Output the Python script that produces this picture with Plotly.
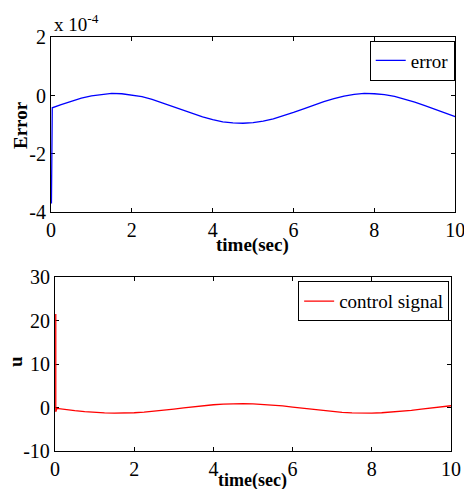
import plotly.graph_objects as go

# time grid (sec)
time = [0.01, 0.03] + [i * 0.25 for i in range(1, 41)]

# error values, in units of 1e-4
error_e4 = [-3.70, -0.42,
            -0.31, -0.20, -0.09, -0.01, 0.04, 0.07, 0.06, 0.02,
            -0.04, -0.13, -0.25, -0.37, -0.50, -0.62, -0.73, -0.83,
            -0.90, -0.94, -0.95, -0.93, -0.88, -0.80, -0.70, -0.58,
            -0.46, -0.33, -0.21, -0.11, -0.02, 0.04, 0.07, 0.06,
            0.03, -0.03, -0.12, -0.23, -0.35, -0.48, -0.60, -0.72]

# control signal values
u_time = [0.02, 0.02, 0.05] + [i * 0.25 for i in range(1, 41)]
control = [21.5, -1.0, -0.2,
           -0.47, -0.73, -0.95, -1.13, -1.24, -1.30, -1.28, -1.20,
           -1.06, -0.86, -0.62, -0.36, -0.08, 0.19, 0.43, 0.63,
           0.78, 0.88, 0.90, 0.85, 0.74, 0.58, 0.36, 0.11,
           -0.16, -0.44, -0.70, -0.92, -1.11, -1.23, -1.29, -1.29,
           -1.21, -1.08, -0.89, -0.65, -0.39, -0.12, 0.15, 0.40]

x_ticks = [0, 2, 4, 6, 8, 10]
err_ticks = [-4, -2, 0, 2]
err_labels = ["-4", "-2", "0", "2"]
u_ticks = [-10, 0, 10, 20, 30]
u_labels = ["-10", "0", "10", "20", "30"]

FONT = "Liberation Serif"
W, H = 464, 489

fig = go.Figure()
fig.add_trace(go.Scatter(x=time, y=error_e4, mode="lines", name="error",
                         line=dict(color="#0000ff", width=1.3),
                         xaxis="x", yaxis="y", legend="legend"))
fig.add_trace(go.Scatter(x=u_time, y=control, mode="lines", name="control signal",
                         line=dict(color="#ff0000", width=1.3),
                         xaxis="x2", yaxis="y2", legend="legend2"))

axis_common = dict(showline=True, linecolor="black", linewidth=1.2, mirror="ticks",
                   ticks="inside", ticklen=4, tickcolor="black", showgrid=False,
                   zeroline=False, automargin=False, ticklabeloverflow="allow",
                   layer="below traces", ticklabelstandoff=0,
                   tickfont=dict(family=FONT, size=20, color="black"))


def label(text, px, py, angle=0, size=19):
    return dict(text=text, x=px / W, y=1 - py / H, xref="paper", yref="paper",
                textangle=angle, showarrow=False, xanchor="center", yanchor="middle",
                font=dict(family=FONT, size=size, color="black"))


fig.update_layout(
    width=W, height=H, autosize=False,
    margin=dict(l=0, r=0, t=0, b=0),
    paper_bgcolor="white", plot_bgcolor="white",
    font=dict(family=FONT, color="black"),
    xaxis=dict(domain=[0.110, 0.981], range=[0, 10], tickvals=x_ticks, anchor="y",
               **axis_common),
    yaxis=dict(domain=[0.566, 0.924], range=[-4, 2], tickvals=err_ticks, ticktext=err_labels,
               anchor="x", **axis_common),
    xaxis2=dict(domain=[0.1185, 0.972], range=[0, 10], tickvals=x_ticks, anchor="y2",
                **axis_common),
    yaxis2=dict(domain=[0.0777, 0.4335], range=[-10, 30], tickvals=u_ticks, ticktext=u_labels,
                anchor="x2", **axis_common),
    legend=dict(x=0.98, y=0.917, xanchor="right", yanchor="top",
                bordercolor="black", borderwidth=1, bgcolor="white",
                font=dict(family=FONT, size=19), tracegroupgap=0,
                itemwidth=30),
    legend2=dict(x=0.968, y=0.425, xanchor="right", yanchor="top",
                 bordercolor="black", borderwidth=1, bgcolor="white",
                 font=dict(family=FONT, size=19), tracegroupgap=0,
                 itemwidth=30),
    showlegend=True,
    annotations=[
        dict(text="x 10<sup>-4</sup>", x=0.112, y=0.925, xref="paper", yref="paper",
             xanchor="left", yanchor="bottom", showarrow=False,
             font=dict(family=FONT, size=19, color="black")),
        label("<b>Error</b>", 20, 125, -90),
        label("<b>u</b>", 15, 362, -90),
        label("<b>time(sec)</b>", 252, 245),
        label("<b>time(sec)</b>", 252, 480, size=18),
    ],
)

fig.write_html("out.html")
